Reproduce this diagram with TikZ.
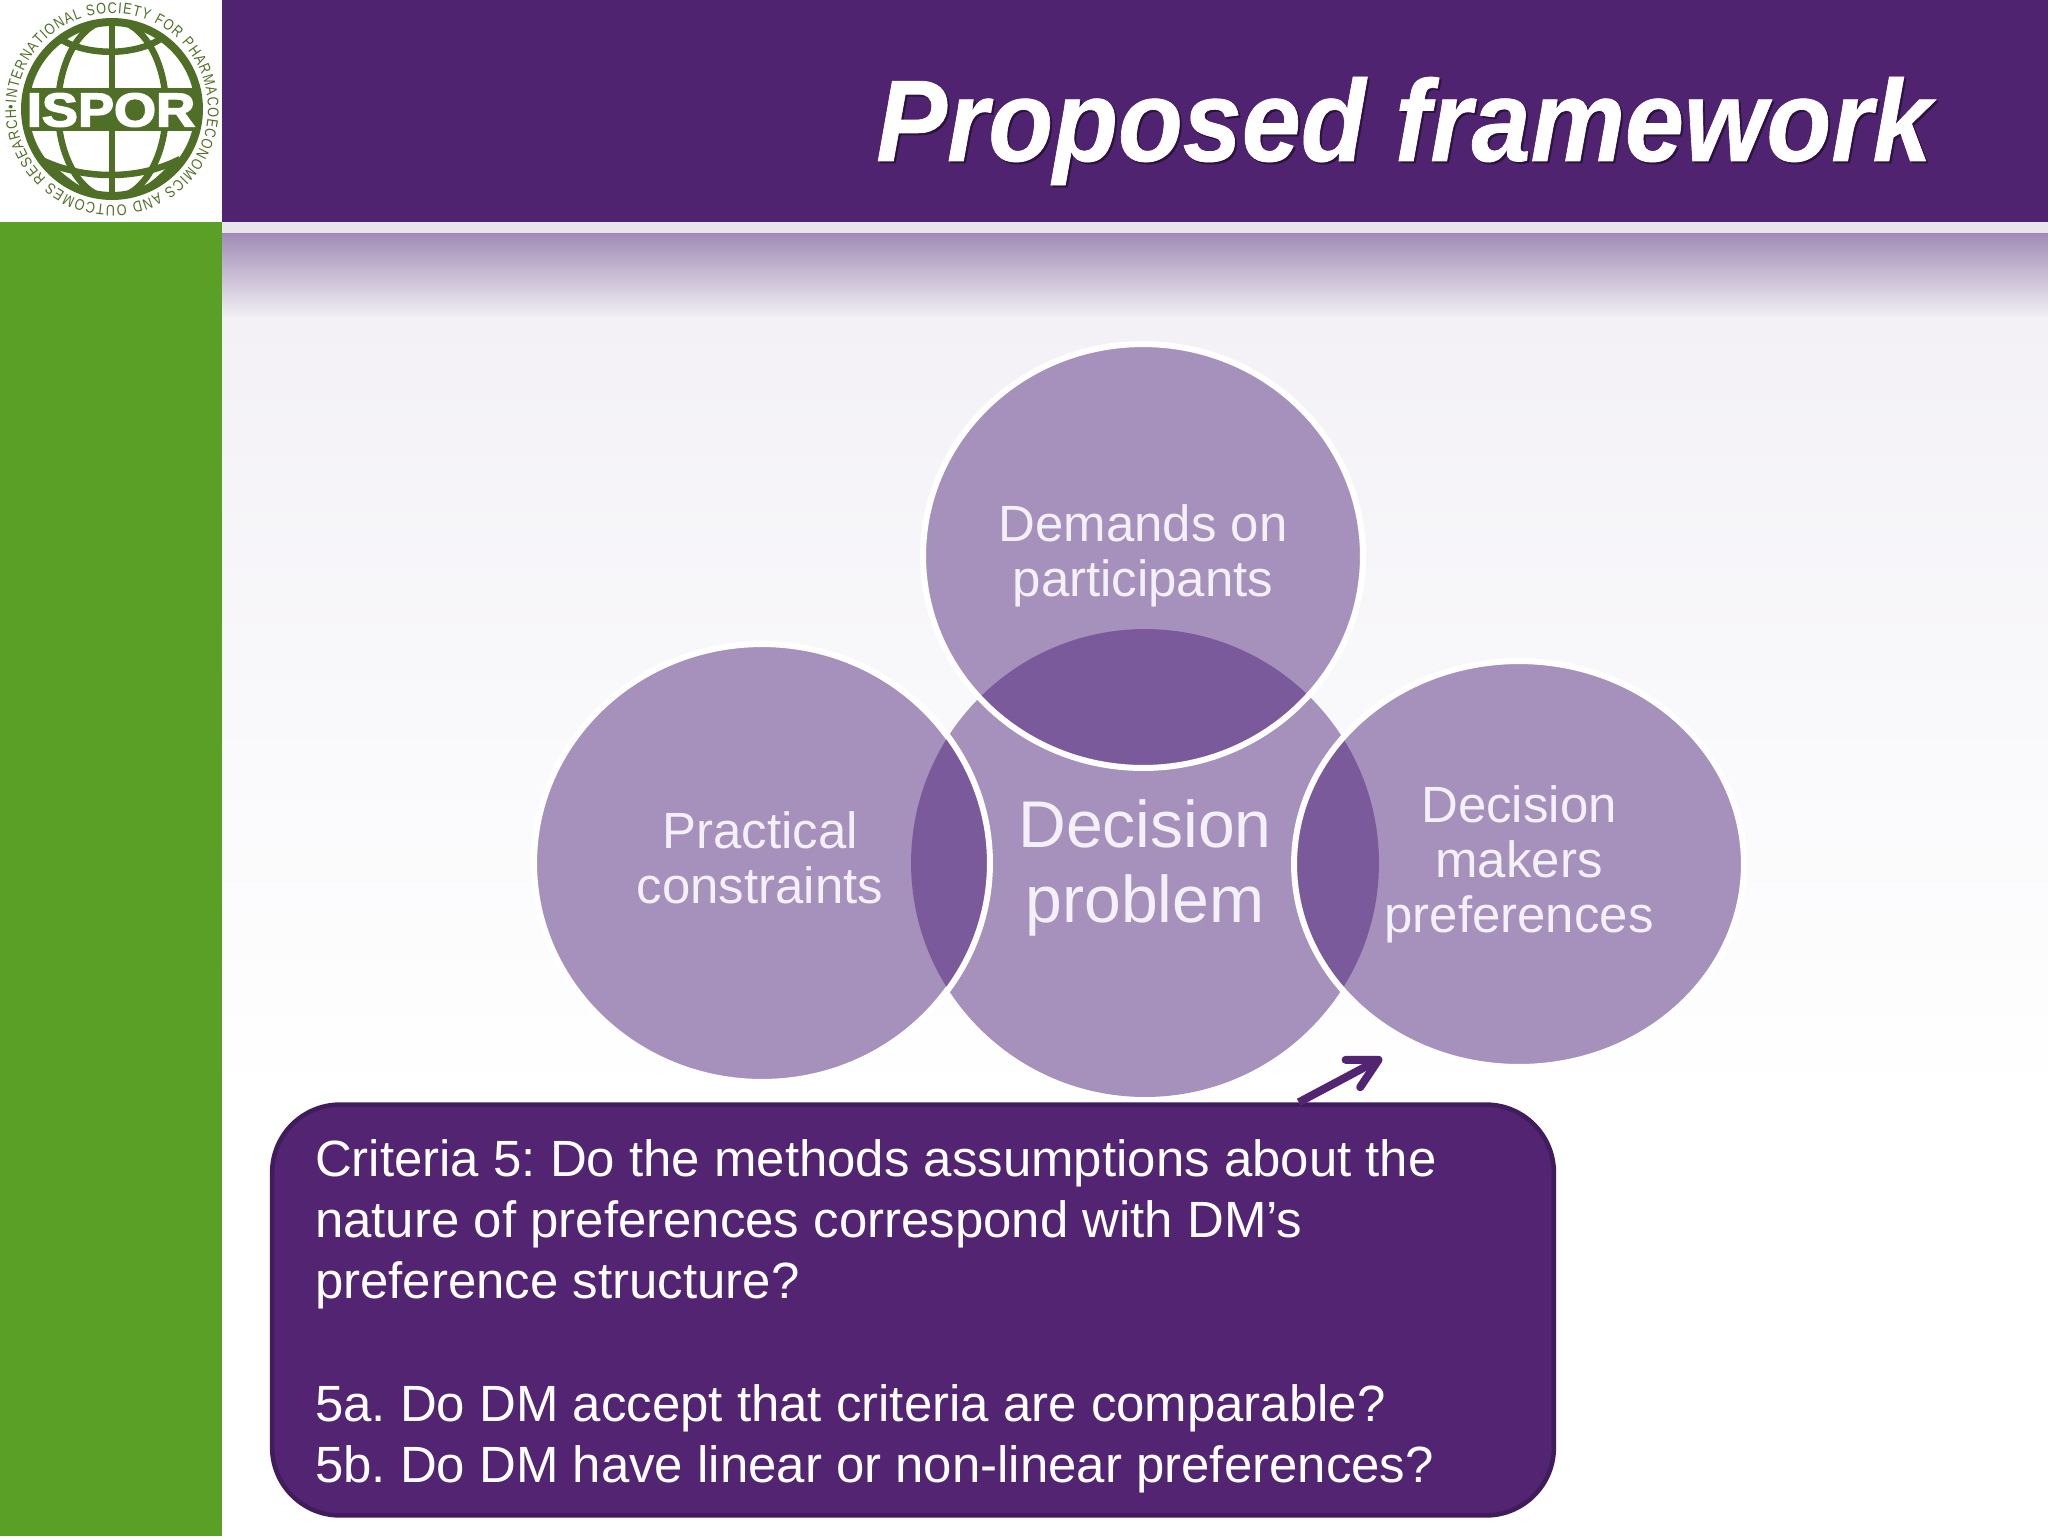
\documentclass[tikz,border=0pt]{standalone}
\usepackage{fontspec}
\usepackage{graphicx}
\setmainfont{Liberation Sans}
\newfontfamily\heavyfont[BoldFeatures={FakeBold=3}]{Liberation Sans}
\newfontfamily\ringfont[FakeStretch=0.82]{Liberation Sans}
\newfontfamily\titlefont[BoldItalicFeatures={FakeBold=0.6}]{Liberation Sans}
\newcommand{\plainspaces}{\spaceskip=0.278em\relax\xspaceskip=0.278em\relax}
\usetikzlibrary{shapes.geometric,arrows.meta,decorations.text}
\definecolor{headpurple}{HTML}{4F2370}
\definecolor{calloutfill}{HTML}{522472}
\definecolor{calloutedge}{HTML}{401C5C}
\definecolor{sidegreen}{HTML}{5AA026}
\definecolor{logogreen}{HTML}{4F6F27}
\definecolor{bubblefill}{HTML}{A591BB}
\definecolor{overlapfill}{HTML}{7A5A9B}
\definecolor{labeltext}{HTML}{F4F0F7}
\definecolor{fadetop}{HTML}{A18BB6}
\definecolor{fadeend}{HTML}{F0EEF3}
\definecolor{bgtop}{HTML}{F3F1F6}
\definecolor{stripe}{HTML}{E8E6EA}
\tikzset{
  bubble/.style={ellipse,inner sep=0pt,fill=bubblefill,text=labeltext,align=center,
    font=\fontsize{29pt}{31.3pt}\selectfont},
  globeline/.style={draw=logogreen,line width=0.13cm},
  ring/.style={draw=white,line width=0.12cm},
}
\begin{document}
\begin{tikzpicture}[x=0.02cm,y=-0.02cm]
\useasboundingbox (0,0) rectangle (2048,1536);
% backgrounds
\fill[white] (0,0) rectangle (2048,1536);
\fill[top color=bgtop,bottom color=white] (222,316) rectangle (2048,1100);
\fill[top color=fadetop,bottom color=fadeend] (222,233) rectangle (2048,316);
\fill[stripe] (222,222) rectangle (2048,233);
\fill[headpurple] (222,0) rectangle (2048,222);
\fill[sidegreen] (0,222) rectangle (222,1536);
% logo
\begin{scope}
  \clip (112,109) circle[radius=1.76cm];
  \draw[globeline] (112,109) ellipse[x radius=1.08cm,y radius=1.78cm];
  \draw[globeline] (112,15) -- (112,205);
  \draw[globeline] (62,40) .. controls (88,56) and (136,56) .. (162,38);
  \draw[globeline] (44,161) .. controls (85,180) and (140,180) .. (180,159);
  \draw[globeline] (48,164) .. controls (62,178) and (75,188) .. (90,195);
  \draw[globeline] (176,162) .. controls (162,178) and (150,188) .. (135,195);
  \fill[logogreen] (20,88) rectangle (205,131);
\end{scope}
\draw[globeline,line width=0.16cm] (112,109) circle[radius=1.74cm];
\node[text=white,inner sep=0pt] (ispor) at (111,110)
  {\scalebox{1.14}[1]{\fontsize{27pt}{27pt}\heavyfont\bfseries ISPOR}};
\path[decorate,decoration={text along path,text align={fit to path},
  text color=logogreen,
  text={|\fontsize{8.8pt}{9pt}\ringfont|•INTERNATIONAL SOCIETY FOR PHARMACOECONOMICS AND OUTCOMES RESEARCH}}]
  (16,109) arc[start angle=180,end angle=-180,radius=1.92cm];
% title
\node[text=black!45!headpurple,inner sep=0pt] (titleshadow) at (1406,133)
  {\scalebox{0.915}[1]{\fontsize{66pt}{70pt}\titlefont\bfseries\itshape Proposed framework}};
\node[text=white,inner sep=0pt] (titletext) at (1404,131)
  {\scalebox{0.915}[1]{\fontsize{66pt}{70pt}\titlefont\bfseries\itshape Proposed framework}};
% bubbles
\node[bubble,minimum width=9.36cm,minimum height=9.36cm,
  font=\fontsize{37.6pt}{42.4pt}\selectfont] (core) at (1145,863) {\rule{0pt}{33pt}Decision\\problem};
\node[bubble,minimum width=8.72cm,minimum height=8.40cm] (demands) at (1143,556) {\plainspaces Demands on\\participants};
\node[bubble,minimum width=9.04cm,minimum height=8.68cm] (practical) at (760,863) {Practical\\constraints\rule[-6pt]{0pt}{0pt}};
\node[bubble,minimum width=8.92cm,minimum height=8.04cm] (prefs) at (1519,864) {Decision\\makers\\preferences};
\begin{scope}
  \clip (core.center) ellipse[x radius=4.68cm,y radius=4.68cm];
  \fill[overlapfill] (demands.center) ellipse[x radius=4.36cm,y radius=4.20cm];
  \fill[overlapfill] ([xshift=0.04cm]practical.center) ellipse[x radius=4.52cm,y radius=4.34cm];
  \fill[overlapfill] (prefs.center) ellipse[x radius=4.46cm,y radius=4.02cm];
\end{scope}
\draw[ring] (demands.center) ellipse[x radius=4.40cm,y radius=4.24cm];
\draw[ring] ([xshift=0.04cm]practical.center) ellipse[x radius=4.56cm,y radius=4.38cm];
\draw[ring] (prefs.center) ellipse[x radius=4.50cm,y radius=4.06cm];
% callout
\coordinate (arrowtip) at (1382,1058);
\node[draw=calloutedge,fill=calloutfill,line width=0.09cm,rounded corners=1.36cm,
  text=white,align=left,text width=23.92cm,inner xsep=0.86cm,inner ysep=0pt,
  minimum height=8.22cm,font=\fontsize{29pt}{34.9pt}\selectfont] (callout) at (913,1310)
  {\plainspaces\rule{0pt}{28pt}Criteria 5: Do the methods assumptions about the\\
   nature of preferences correspond with DM’s\\
   preference structure?\\[34.9pt]
   5a. Do DM accept that criteria are comparable?\\
   5b. Do DM have linear or non-linear preferences?};
\draw[calloutfill,line width=0.16cm,
  -{Straight Barb[length=0.58cm,width=0.62cm,round]}] (callout) -- (arrowtip);
\end{tikzpicture}
\end{document}
